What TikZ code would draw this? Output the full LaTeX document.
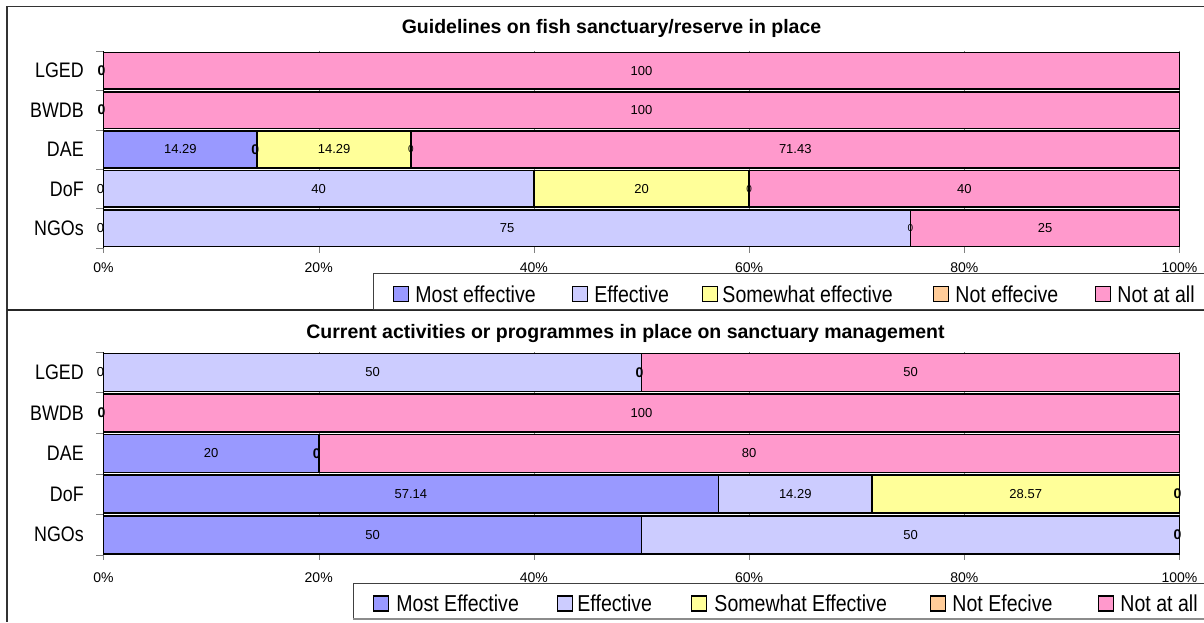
\documentclass[tikz,border=0pt]{standalone}
\usepackage{fontspec}
\setmainfont{Liberation Sans}
\newfontfamily\narrowfont[FakeStretch=0.85]{Liberation Sans}
\usetikzlibrary{positioning}

\definecolor{mostcol}{HTML}{9999FF}
\definecolor{effcol}{HTML}{CCCCFF}
\definecolor{somecol}{HTML}{FFFF99}
\definecolor{notcol}{HTML}{FFCC99}
\definecolor{nallcol}{HTML}{FF99CC}

\begin{document}
\begin{tikzpicture}[
            x = 1pt, y = -1pt, % pixel units, origin top left
            node distance = 6pt, % square to legend text
            semithick % line style
        ]

        \tikzstyle{seg}=[draw = black, line width = 1.6pt]
        \tikzstyle{grid}=[draw = gray, thin]
        \tikzstyle{val}=[inner sep = 0pt, font = \fontsize{13}{15}\selectfont]
        \tikzstyle{zero}=[val, xshift = -2pt, font = \fontsize{14}{16}\selectfont\bfseries]
        \tikzstyle{thin zero}=[val, xshift = -3pt]
        \tikzstyle{small zero}=[val, font = \fontsize{10}{12}\selectfont]
        \tikzstyle{cat}=[anchor = east, inner sep = 0pt, font = \fontsize{21}{24}\selectfont\narrowfont]
        \tikzstyle{tick label}=[inner sep = 0pt, font = \fontsize{14}{16}\selectfont]
        \tikzstyle{title}=[inner sep = 0pt, font = \fontsize{19.5}{22}\selectfont\bfseries]
        \tikzstyle{key}=[draw = black, line width = 1.3pt, minimum size = 15pt, inner sep = 0pt]
        \tikzstyle{key text}=[inner sep = 0pt, font = \fontsize{23}{26}\selectfont\narrowfont]

        \useasboundingbox (0,0) rectangle (1204,622);

        % frame
        \draw[line width = 1.2pt, black!80] (1204,6.5) -- (7,6.5) -- (7,622);
        \draw[line width = 2pt, black!85] (7,310) -- (1204,310);

        % upper chart
        \node[title] (t1) at (611.5,28) {Guidelines on fish sanctuary/reserve in place};
        \begin{scope}[xshift = 103.5pt, x = 10.76pt]
            \foreach \g in {20,40,60,80,100} \draw[grid] (\g,51) -- (\g,253);
            \draw[grid] (0,248) -- (0,253);
            \foreach \c in {51,90.4,129.8,169.2,208.6,248} \draw[grid] (0,\c) -- ++(-8pt,0pt);

            \draw[seg, fill = nallcol] (0,52.4) rectangle (100,89.0);
            \draw[seg, fill = nallcol] (0,91.8) rectangle (100,128.4);
            \draw[seg, fill = mostcol] (0,131.2) rectangle (14.29,167.8);
            \draw[seg, fill = somecol] (14.29,131.2) rectangle (28.57,167.8);
            \draw[seg, fill = nallcol] (28.57,131.2) rectangle (100,167.8);
            \draw[seg, fill = effcol] (0,170.6) rectangle (40,207.2);
            \draw[seg, fill = somecol] (40,170.6) rectangle (60,207.2);
            \draw[seg, fill = nallcol] (60,170.6) rectangle (100,207.2);
            \draw[seg, fill = effcol] (0,210.0) rectangle (75,246.6);
            \draw[seg, fill = nallcol] (75,210.0) rectangle (100,246.6);
            \draw[black, thick] (0,51) -- (0,248);

            \node[zero] (a1z) at (0,70.7) {0};
            \node[val] (a1) at (50,70.7) {100};
            \node[zero] (a2z) at (0,110.1) {0};
            \node[val] (a2) at (50,110.1) {100};
            \node[val] (a3) at (7.14,149.5) {14.29};
            \node[zero] (a3z) at (14.29,149.5) {0};
            \node[val] (a3b) at (21.43,149.5) {14.29};
            \node[small zero] (a3y) at (28.57,149.5) {0};
            \node[val] (a3c) at (64.29,149.5) {71.43};
            \node[thin zero] (a4z) at (0,188.9) {0};
            \node[val] (a4) at (20,188.9) {40};
            \node[val] (a4b) at (50,188.9) {20};
            \node[small zero] (a4y) at (60,188.9) {0};
            \node[val] (a4c) at (80,188.9) {40};
            \node[thin zero] (a5z) at (0,228.3) {0};
            \node[val] (a5) at (37.5,228.3) {75};
            \node[small zero] (a5y) at (75,228.3) {0};
            \node[val] (a5c) at (87.5,228.3) {25};

            \node[tick label] (x10) at (0,268) {0\%};
            \node[tick label] (x12) at (20,268) {20\%};
            \node[tick label] (x14) at (40,268) {40\%};
            \node[tick label] (x16) at (60,268) {60\%};
            \node[tick label] (x18) at (80,268) {80\%};
            \node[tick label] (x110) at (100,268) {100\%};
        \end{scope}
        \node[cat] (lged1) at (84,70.7) {LGED};
        \node[cat] (bwdb1) at (84,110.1) {BWDB};
        \node[cat] (dae1) at (84,149.5) {DAE};
        \node[cat] (dof1) at (84,188.9) {DoF};
        \node[cat] (ngo1) at (84,228.3) {NGOs};

        % upper legend
        \draw[fill = white, draw = black!75, thin] (373,273.5) rectangle (1210,309);
        \node[key, fill = mostcol] (k11) at (401,294) {};
        \node[key text, right = 6pt of k11] (l11) {Most effective};
        \node[key, fill = effcol] (k12) at (580,294) {};
        \node[key text, right = 6pt of k12] (l12) {Effective};
        \node[key, fill = somecol] (k13) at (710,294) {};
        \node[key text, right = 4pt of k13] (l13) {Somewhat effective};
        \node[key, fill = notcol] (k14) at (941,294) {};
        \node[key text, right = 6pt of k14] (l14) {Not effecive};
        \node[key, fill = nallcol] (k15) at (1103,294) {};
        \node[key text, right = 6pt of k15] (l15) {Not at all};

        % lower chart
        \node[title] (t2) at (625.5,333) {Current activities or programmes in place on sanctuary management};
        \begin{scope}[xshift = 103.5pt, x = 10.76pt]
            \foreach \g in {20,40,60,80,100} \draw[grid] (\g,352) -- (\g,560);
            \draw[grid] (0,555) -- (0,560);
            \foreach \c in {352,392.6,433.2,473.8,514.4,555} \draw[grid] (0,\c) -- ++(-8pt,0pt);

            \draw[seg, fill = effcol] (0,353.3) rectangle (50,391.3);
            \draw[seg, fill = nallcol] (50,353.3) rectangle (100,391.3);
            \draw[seg, fill = nallcol] (0,393.9) rectangle (100,431.9);
            \draw[seg, fill = mostcol] (0,434.5) rectangle (20,472.5);
            \draw[seg, fill = nallcol] (20,434.5) rectangle (100,472.5);
            \draw[seg, fill = mostcol] (0,475.1) rectangle (57.14,513.1);
            \draw[seg, fill = effcol] (57.14,475.1) rectangle (71.43,513.1);
            \draw[seg, fill = somecol] (71.43,475.1) rectangle (100,513.1);
            \draw[seg, fill = mostcol] (0,515.7) rectangle (50,553.7);
            \draw[seg, fill = effcol] (50,515.7) rectangle (100,553.7);
            \draw[black, thick] (0,352) -- (0,555);

            \node[thin zero] (b1z) at (0,372.3) {0};
            \node[val] (b1) at (25,372.3) {50};
            \node[zero] (b1y) at (50,372.3) {0};
            \node[val] (b1c) at (75,372.3) {50};
            \node[zero] (b2z) at (0,412.9) {0};
            \node[val] (b2) at (50,412.9) {100};
            \node[val] (b3) at (10,453.5) {20};
            \node[zero] (b3z) at (20,453.5) {0};
            \node[val] (b3c) at (60,453.5) {80};
            \node[val] (b4) at (28.57,494.1) {57.14};
            \node[val] (b4b) at (64.29,494.1) {14.29};
            \node[val] (b4c) at (85.71,494.1) {28.57};
            \node[zero] (b4z) at (100,494.1) {0};
            \node[val] (b5) at (25,534.7) {50};
            \node[val] (b5b) at (75,534.7) {50};
            \node[zero] (b5z) at (100,534.7) {0};

            \node[tick label] (x20) at (0,578) {0\%};
            \node[tick label] (x22) at (20,578) {20\%};
            \node[tick label] (x24) at (40,578) {40\%};
            \node[tick label] (x26) at (60,578) {60\%};
            \node[tick label] (x28) at (80,578) {80\%};
            \node[tick label] (x210) at (100,578) {100\%};
        \end{scope}
        \node[cat] (lged2) at (84,372.3) {LGED};
        \node[cat] (bwdb2) at (84,412.9) {BWDB};
        \node[cat] (dae2) at (84,453.5) {DAE};
        \node[cat] (dof2) at (84,494.1) {DoF};
        \node[cat] (ngo2) at (84,534.7) {NGOs};

        % lower legend
        \draw[fill = white, draw = black!75, thin] (353,583.5) rectangle (1210,619);
        \draw[line width = 2pt, black!45] (353,619) -- (1204,619);
        \node[key, fill = mostcol] (k21) at (381,603.5) {};
        \node[key text, right = 7pt of k21] (l21) {Most Effective};
        \node[key, fill = effcol] (k22) at (565,603.5) {};
        \node[key text, right = 4pt of k22] (l22) {Effective};
        \node[key, fill = somecol] (k23) at (699,603.5) {};
        \node[key text, right = 7pt of k23] (l23) {Somewhat Effective};
        \node[key, fill = notcol] (k24) at (938,603.5) {};
        \node[key text, right = 6pt of k24] (l24) {Not Efecive};
        \node[key, fill = nallcol] (k25) at (1106,603.5) {};
        \node[key text, right = 6pt of k25] (l25) {Not at all};

  \end{tikzpicture}
\end{document}
